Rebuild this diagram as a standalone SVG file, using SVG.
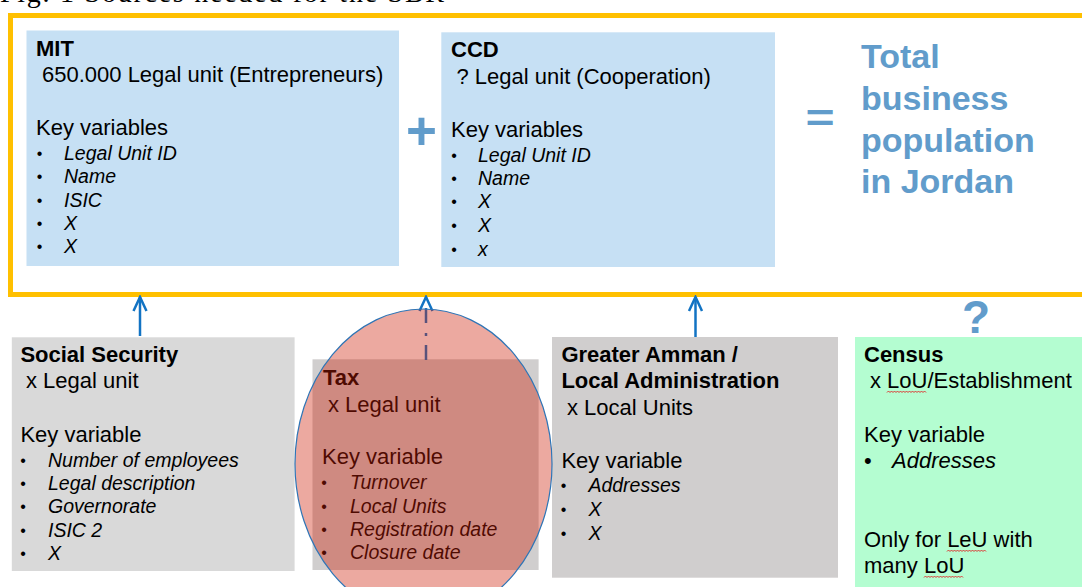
<svg xmlns="http://www.w3.org/2000/svg" width="1082" height="587" viewBox="0 0 1082 587">
<style>
.t{font-family:"Liberation Sans",Arial,sans-serif;font-size:22px;fill:#000}
.b{font-weight:bold}
.i{font-style:italic;font-size:19.5px}
.s{font-size:16px}
.big{font-family:"Liberation Sans",Arial,sans-serif;font-weight:bold;fill:#619CCB}
.arr{stroke:#1273C3;stroke-width:2.5;fill:none}
.sq{stroke:#E02020;stroke-width:0.9;fill:none}
</style>
<defs>
<marker id="ah" markerUnits="userSpaceOnUse" viewBox="-16 -9 18 18" refX="0" refY="0" markerWidth="18" markerHeight="18" orient="auto">
<path d="M-14,-6.5 L0,0 L-14,6.5" fill="none" stroke="#1273C3" stroke-width="2.5"/>
</marker>
</defs>
<rect width="1082" height="587" fill="#fff"/>
<text x="0" y="2" font-family="Liberation Serif,'Times New Roman',serif" font-size="28" textLength="444" fill="#000">Fig. 1 Sources needed for the SBR</text>
<rect id="frame" x="10.5" y="15.5" width="1100" height="279" fill="none" stroke="#FFC000" stroke-width="5"/>

<g id="mit">
<rect x="26.5" y="30.5" width="372.5" height="235.5" fill="#C6E0F4"/>
<text class="t b" x="36" y="56">MIT</text>
<text class="t" x="42" y="82">650.000 Legal unit (Entrepreneurs)</text>
<text class="t" x="36" y="135">Key variables</text>
<text class="t s" x="36.8" y="159">•</text><text class="t i" x="64" y="160">Legal Unit ID</text>
<text class="t s" x="36.8" y="182">•</text><text class="t i" x="64" y="183">Name</text>
<text class="t s" x="36.8" y="206">•</text><text class="t i" x="64" y="207">ISIC</text>
<text class="t s" x="36.8" y="229">•</text><text class="t i" x="64" y="230">X</text>
<text class="t s" x="36.8" y="252">•</text><text class="t i" x="64" y="253">X</text>
</g>

<g id="plus"><text class="big" x="421.5" y="149" font-size="53" text-anchor="middle">+</text></g>

<g id="ccd">
<rect x="441.3" y="32.3" width="333.7" height="234.7" fill="#C6E0F4"/>
<text class="t b" x="451" y="57">CCD</text>
<text class="t" x="456.5" y="84">? Legal unit (Cooperation)</text>
<text class="t" x="451" y="137">Key variables</text>
<text class="t s" x="451.2" y="161">•</text><text class="t i" x="478" y="162">Legal Unit ID</text>
<text class="t s" x="451.2" y="184">•</text><text class="t i" x="478" y="185">Name</text>
<text class="t s" x="451.2" y="207">•</text><text class="t i" x="478" y="208">X</text>
<text class="t s" x="451.2" y="231">•</text><text class="t i" x="478" y="232">X</text>
<text class="t s" x="451.2" y="255">•</text><text class="t i" x="478" y="256">x</text>
</g>

<g id="equals"><text class="big" transform="translate(820,118) scale(1,0.78)" x="0" y="17" font-size="50" text-anchor="middle">=</text></g>

<g id="total">
<text class="big" x="861" y="68" font-size="34">Total</text>
<text class="big" x="861" y="110" font-size="34">business</text>
<text class="big" x="861" y="152" font-size="34">population</text>
<text class="big" x="861" y="193" font-size="34">in Jordan</text>
</g>

<g id="social-security">
<rect x="11.8" y="337.3" width="282.8" height="233.7" fill="#D9D9D9"/>
<text class="t b" x="20.4" y="362">Social Security</text>
<text class="t" x="26" y="388">x Legal unit</text>
<text class="t" x="20.4" y="442">Key variable</text>
<text class="t s" x="20.2" y="466">•</text><text class="t i" x="48" y="467">Number of employees</text>
<text class="t s" x="20.2" y="489">•</text><text class="t i" x="48" y="490">Legal description</text>
<text class="t s" x="20.2" y="512">•</text><text class="t i" x="48" y="513">Governorate</text>
<text class="t s" x="20.2" y="536">•</text><text class="t i" x="48" y="537">ISIC 2</text>
<text class="t s" x="20.2" y="559">•</text><text class="t i" x="48" y="560">X</text>
</g>

<g id="tax">
<rect x="312.5" y="359.3" width="226.1" height="210.7" fill="#D0CECE"/>
<text class="t b" x="323" y="385">Tax</text>
<text class="t" x="328" y="412">x Legal unit</text>
<text class="t" x="322" y="464">Key variable</text>
<text class="t s" x="321.2" y="488">•</text><text class="t i" x="350" y="489">Turnover</text>
<text class="t s" x="321.2" y="512">•</text><text class="t i" x="350" y="513">Local Units</text>
<text class="t s" x="321.2" y="535">•</text><text class="t i" x="350" y="536">Registration date</text>
<text class="t s" x="321.2" y="558">•</text><text class="t i" x="350" y="559">Closure date</text>
</g>

<g id="greater-amman">
<rect x="552" y="337" width="286" height="240.7" fill="#D0CECE"/>
<text class="t b" x="561.4" y="362">Greater Amman /</text>
<text class="t b" x="561.4" y="388">Local Administration</text>
<text class="t" x="567" y="415">x Local Units</text>
<text class="t" x="561.4" y="468">Key variable</text>
<text class="t s" x="560.7" y="491">•</text><text class="t i" x="588.4" y="492">Addresses</text>
<text class="t s" x="560.7" y="515">•</text><text class="t i" x="588.4" y="516">X</text>
<text class="t s" x="560.7" y="539">•</text><text class="t i" x="588.4" y="540">X</text>
</g>

<g id="census">
<rect x="855" y="337" width="240" height="260" fill="#B4FDD1"/>
<text class="t b" x="864" y="362">Census</text>
<text class="t" x="870" y="388">x LoU/Establishment</text>
<text class="t" x="864" y="442">Key variable</text>
<text class="t" x="864" y="468">•</text><text class="t" x="892" y="468" font-style="italic">Addresses</text>
<text class="t" x="864" y="547">Only for LeU with</text>
<text class="t" x="864" y="573">many LoU</text>
<path class="sq" d="M887,392.5 l1.5,-1.5 l1.5,1.5 l1.5,-1.5 l1.5,1.5 l1.5,-1.5 l1.5,1.5 l1.5,-1.5 l1.5,1.5 l1.5,-1.5 l1.5,1.5 l1.5,-1.5 l1.5,1.5 l1.5,-1.5 l1.5,1.5 l1.5,-1.5 l1.5,1.5 l1.5,-1.5 l1.5,1.5 l1.5,-1.5 l1.5,1.5 l1.5,-1.5 l1.5,1.5 l1.5,-1.5 l1.5,1.5 l1.5,-1.5 l1.5,1.5"/>
<path class="sq" d="M947,551.5 l1.5,-1.5 l1.5,1.5 l1.5,-1.5 l1.5,1.5 l1.5,-1.5 l1.5,1.5 l1.5,-1.5 l1.5,1.5 l1.5,-1.5 l1.5,1.5 l1.5,-1.5 l1.5,1.5 l1.5,-1.5 l1.5,1.5 l1.5,-1.5 l1.5,1.5 l1.5,-1.5 l1.5,1.5 l1.5,-1.5 l1.5,1.5 l1.5,-1.5 l1.5,1.5 l1.5,-1.5 l1.5,1.5 l1.5,-1.5 l1.5,1.5"/>
<path class="sq" d="M924,577.5 l1.5,-1.5 l1.5,1.5 l1.5,-1.5 l1.5,1.5 l1.5,-1.5 l1.5,1.5 l1.5,-1.5 l1.5,1.5 l1.5,-1.5 l1.5,1.5 l1.5,-1.5 l1.5,1.5 l1.5,-1.5 l1.5,1.5 l1.5,-1.5 l1.5,1.5 l1.5,-1.5 l1.5,1.5 l1.5,-1.5 l1.5,1.5 l1.5,-1.5 l1.5,1.5 l1.5,-1.5 l1.5,1.5 l1.5,-1.5 l1.5,1.5"/>
</g>

<g id="question"><text class="big" x="976" y="333" font-size="46" text-anchor="middle">?</text></g>

<g id="connectors">
<line class="arr" x1="140" y1="336" x2="140" y2="297" marker-end="url(#ah)"/>
<line class="arr" x1="695.5" y1="337" x2="695.5" y2="297" marker-end="url(#ah)"/>
<line class="arr" x1="426" y1="360" x2="426" y2="308" stroke-dasharray="15,9,3,10"/>
<line class="arr" x1="426" y1="299" x2="426" y2="297" marker-end="url(#ah)"/>
</g>

<g id="tax-highlight">
<ellipse cx="423.5" cy="464" rx="128.5" ry="155" fill="rgb(205,30,5)" fill-opacity="0.38" stroke="#2E75B6" stroke-width="1.2"/>
</g>
</svg>
